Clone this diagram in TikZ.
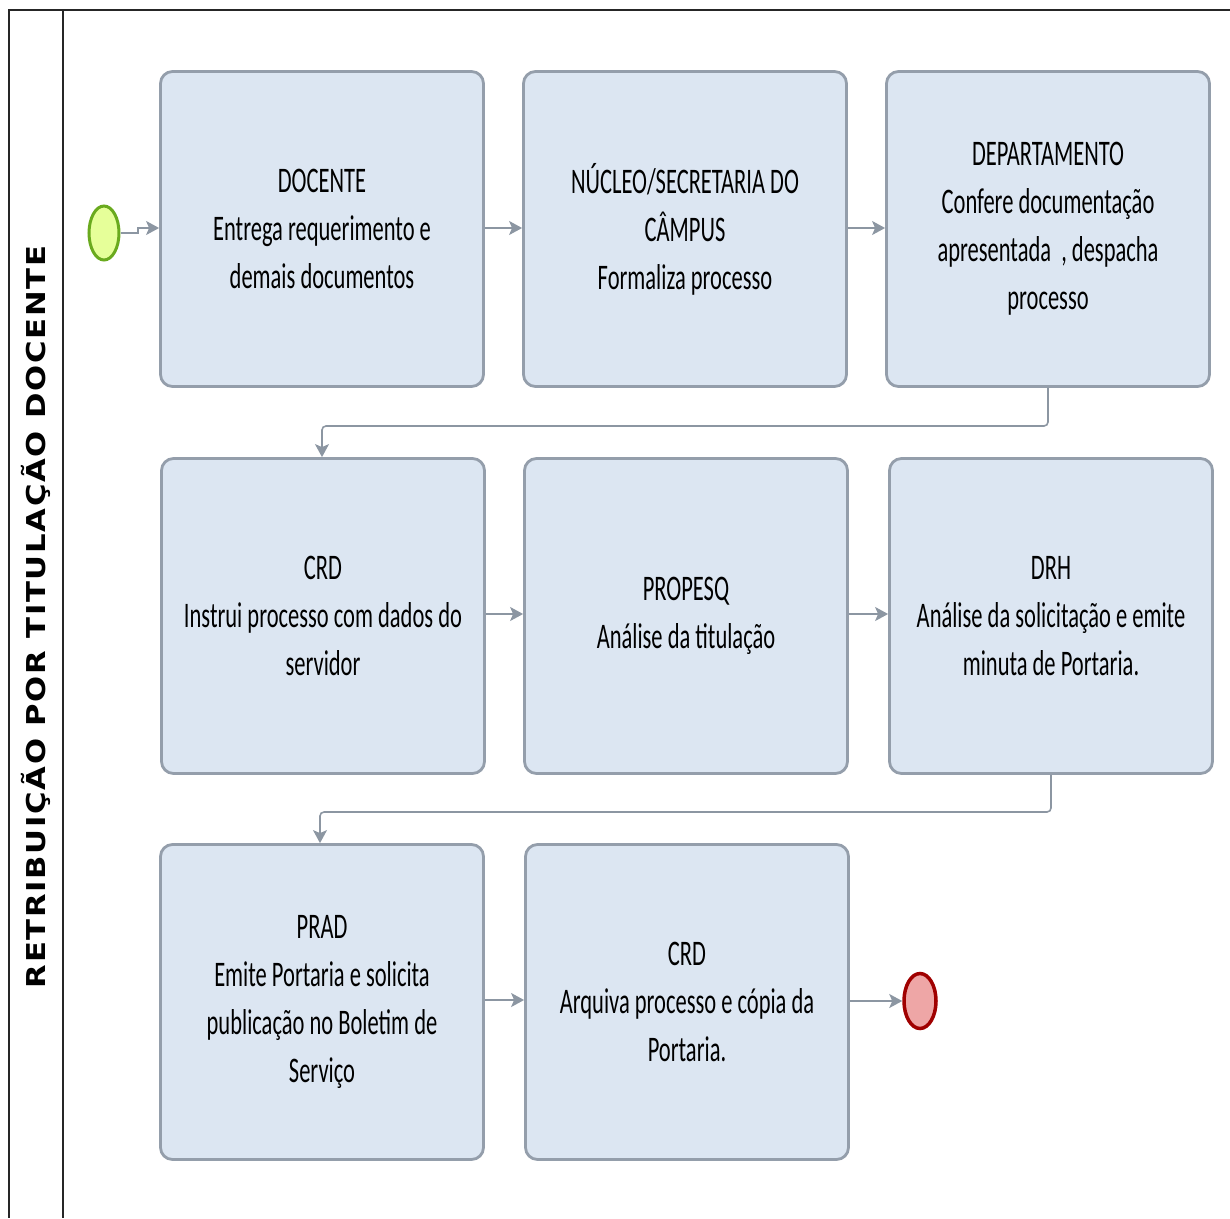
\documentclass[tikz,border=0pt]{standalone}
\usepackage{fontspec}
\newfontfamily\boxfont[FakeStretch=0.625]{Carlito}
\newfontfamily\lanefont[FakeStretch=1.18,LetterSpace=6.5]{DejaVu Sans}
\usetikzlibrary{arrows.meta,shapes.geometric}
\definecolor{boxfill}{HTML}{DCE6F2}
\definecolor{boxline}{HTML}{949EAB}
\definecolor{arrowc}{HTML}{8C96A2}
\definecolor{startfill}{HTML}{E6FF99}
\definecolor{startline}{HTML}{6AAA1E}
\definecolor{endfill}{HTML}{EEA6A6}
\definecolor{endline}{HTML}{A00000}
\tikzset{
  taskbox/.style={draw=boxline, line width=2.8pt, fill=boxfill, rounded corners=12pt,
    minimum width=323pt, minimum height=315pt, inner sep=0pt, align=center,
    font=\boxfont\fontsize{36}{48}\selectfont, text=black},
  flow/.style={draw=arrowc, line width=1.6pt, rounded corners=4pt,
    -{Stealth[length=13pt,width=14pt,inset=3pt]}},
  frameline/.style={draw=black!85, line width=1.5pt},
}
\begin{document}
\begin{tikzpicture}[x=1pt,y=-1pt]
\useasboundingbox (0,0) rectangle (1230,1218);
% pool frame
\draw[frameline] (1230,10) -- (9,10) -- (9,1218);
\draw[frameline] (63,10) -- (63,1218);
\node[rotate=90, font=\lanefont\bfseries\fontsize{26}{30}\selectfont] (lane) at (36,617) {RETRIBUIÇÃO POR TITULAÇÃO DOCENTE};
% events
\node[draw=startline, line width=3pt, fill=startfill, ellipse, minimum width=30pt, minimum height=54pt, inner sep=0pt] (start) at (104,233) {};
\node[draw=endline, line width=3.5pt, fill=endfill, ellipse, minimum width=32pt, minimum height=55pt, inner sep=0pt] (end) at (920,1001) {};
% tasks
\node[taskbox] (t1) at (322,229) {DOCENTE\\Entrega requerimento e\\demais documentos};
\node[taskbox] (t2) at (685,229) {NÚCLEO/SECRETARIA DO\\CÂMPUS\\Formaliza processo};
\node[taskbox] (t3) at (1048,229) {DEPARTAMENTO\\Confere documentação\\apresentada~~, despacha\\processo};
\node[taskbox] (t4) at (323,616) {CRD\\Instrui processo com dados do\\servidor};
\node[taskbox] (t5) at (686,616) {PROPESQ\\Análise da titulação};
\node[taskbox] (t6) at (1051,616) {DRH\\Análise da solicitação e emite\\minuta de Portaria.};
\node[taskbox] (t7) at (322,1002) {PRAD\\Emite Portaria e solicita\\publicação no Boletim de\\Serviço};
\node[taskbox] (t8) at (687,1002) {CRD\\Arquiva processo e cópia da\\Portaria.};
% flows
\draw[flow, rounded corners=0pt] (start.east) -- (138,233) -- (138,228) -- (t1.west |- 0,228);
\draw[flow] (t1.east |- 0,228) -- (t2.west |- 0,228);
\draw[flow] (t2.east |- 0,228) -- (t3.west |- 0,228);
\draw[flow] (t3.south) -- (1048,426) -- (322,426) -- (t4.north -| 322,0);
\draw[flow] (t4.east |- 0,614) -- (t5.west |- 0,614);
\draw[flow] (t5.east |- 0,614) -- (t6.west |- 0,614);
\draw[flow] (t6.south) -- (1051,812) -- (320,812) -- (t7.north -| 320,0);
\draw[flow] (t7.east |- 0,1000) -- (t8.west |- 0,1000);
\draw[flow] (t8.east |- end.west) -- (end.west);
\end{tikzpicture}
\end{document}
